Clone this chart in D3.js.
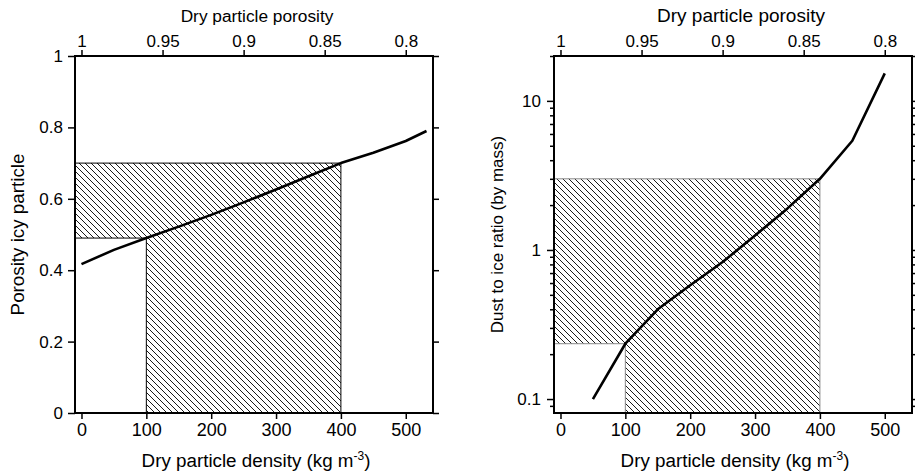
<!DOCTYPE html>
<html><head><meta charset="utf-8">
<script src="https://cdn.jsdelivr.net/npm/d3@7"></script>
<style>
body{margin:0;background:#fff}
svg{display:block}
text{font-family:"Liberation Sans",Arial,Helvetica,sans-serif;fill:#000}
</style>
</head><body>
<svg id="c" width="915" height="476"></svg>
<script>
// ---------- shared ----------
const grainDensity = 2500;                 // porosity = 1 - density / grainDensity
const densityTicks = [0, 100, 200, 300, 400, 500];
const porosityTicks = [1, 0.95, 0.9, 0.85, 0.8];
const densityDomain = [-10, 542];

// ---------- left panel: porosity of icy particle ----------
const densityL = [0, 50, 100, 150, 200, 250, 300, 350, 400, 450, 500, 532];
const porosityIcy = [0.417, 0.457, 0.490, 0.522, 0.555, 0.590, 0.626, 0.663, 0.700, 0.729, 0.762, 0.790];
const porosityIcyTicks = [0, 0.2, 0.4, 0.6, 0.8, 1];
const hatchDensityL = [100, 400];
const hatchLevelsL = [0.49, 0.70];

// ---------- right panel: dust to ice ratio ----------
const densityR = [50, 100, 150, 200, 250, 300, 350, 400, 450, 500];
const dustIceRatio = [0.10, 0.235, 0.40, 0.58, 0.83, 1.25, 1.9, 3.0, 5.4, 15.3];
const ratioLabelTicks = [0.1, 1, 10];
const ratioDomain = [0.0806, 20];
const hatchDensityR = [100, 400];
const hatchLevelsR = [0.235, 3.0];

const svg = d3.select("#c");
const defs = svg.append("defs");
const pat = defs.append("pattern").attr("id", "hatch")
  .attr("patternUnits", "userSpaceOnUse").attr("width", 6).attr("height", 6);
pat.append("path").attr("d", "M-1,-1L7,7M-1,5L1,7M5,-1L7,1")
  .attr("stroke", "#000").attr("stroke-width", 0.9).attr("fill", "none");

function panel(opt) {
  const g = svg.append("g");
  const x = d3.scaleLinear().domain(densityDomain).range(opt.xr);
  const top = 56, bot = 413;
  const y = opt.log ? d3.scaleLog().domain(ratioDomain).range([bot, top])
                    : d3.scaleLinear().domain([0, 1]).range([bot, top]);
  const xp = d3.scaleLinear()
    .domain(densityDomain.map(d => 1 - d / grainDensity)).range(opt.xr);
  const yMin = y.domain()[0];

  // hatched L-shaped region
  const hd = opt.hatchDensity, hl = opt.hatchLevels;
  const pts = [[densityDomain[0], hl[1]], [hd[1], hl[1]], [hd[1], yMin],
               [hd[0], yMin], [hd[0], hl[0]], [densityDomain[0], hl[0]]];
  g.append("path")
    .attr("d", d3.line().x(d => x(d[0])).y(d => y(d[1]))(pts) + "Z")
    .attr("fill", "url(#hatch)")
    .attr("stroke", opt.hatchStroke).attr("stroke-width", 1);

  // curve
  g.append("path")
    .datum(opt.xs.map((d, i) => [d, opt.ys[i]]))
    .attr("d", d3.line().x(d => x(d[0])).y(d => y(d[1])))
    .attr("fill", "none").attr("stroke", "#000").attr("stroke-width", 2.6)
    .attr("stroke-linejoin", "round");

  // bottom axis
  const ax = g.append("g").attr("transform", `translate(0,${bot})`)
    .call(d3.axisBottom(x).tickValues(densityTicks).tickSize(6).tickSizeOuter(0).tickPadding(4));
  ax.select(".domain").remove();
  ax.selectAll("line").attr("stroke-width", 1.5);
  ax.selectAll("text").attr("font-size", 18).attr("font-family", null);

  // top axis (porosity)
  const at = g.append("g").attr("transform", `translate(0,${top - 1})`)
    .call(d3.axisTop(xp).tickValues(porosityTicks).tickSize(5).tickSizeOuter(0).tickPadding(3)
      .tickFormat(d3.format("")));
  at.select(".domain").remove();
  at.selectAll("line").attr("stroke-width", 1.5);
  at.selectAll("text").attr("font-size", 17).attr("font-family", null);

  // left / right axes
  let left, right;
  if (opt.log) {
    const all = y.ticks();
    left = d3.axisLeft(y).tickValues(all).tickSize(4).tickSizeOuter(0).tickPadding(9)
      .tickFormat(d => ratioLabelTicks.includes(+d.toPrecision(3)) ? d3.format("")(d) : "");
    right = d3.axisRight(y).tickValues(all).tickSize(4).tickSizeOuter(0).tickFormat("");
  } else {
    left = d3.axisLeft(y).tickValues(porosityIcyTicks).tickSize(7).tickSizeOuter(0).tickPadding(5)
      .tickFormat(d3.format(""));
    right = d3.axisRight(y).tickValues(porosityIcyTicks).tickSize(6).tickSizeOuter(0).tickFormat("");
  }
  const al = g.append("g").attr("transform", `translate(${opt.xr[0]},0)`).call(left);
  al.select(".domain").remove();
  al.selectAll("line").attr("stroke-width", 1.5);
  al.selectAll("text").attr("font-size", 17).attr("font-family", null);
  if (opt.log) {
    al.selectAll(".tick").filter(d => ratioLabelTicks.includes(+d.toPrecision(3)))
      .select("line").attr("x2", -7);
  }
  const ar = g.append("g").attr("transform", `translate(${opt.xr[1]},0)`).call(right);
  ar.select(".domain").remove();
  ar.selectAll("line").attr("stroke-width", 1.5);

  // frame
  g.append("rect").attr("x", opt.xr[0]).attr("y", top)
    .attr("width", opt.xr[1] - opt.xr[0]).attr("height", bot - top)
    .attr("fill", "none").attr("stroke", "#000").attr("stroke-width", 2);

  // titles
  g.append("text").attr("x", opt.topTitleX).attr("y", 22).attr("text-anchor", "middle")
    .attr("font-size", opt.topTitleFs).text("Dry particle porosity");
  const bt = g.append("text").attr("x", (opt.xr[0] + opt.xr[1]) / 2 + 2).attr("y", 467)
    .attr("text-anchor", "middle").attr("font-size", 18.8);
  bt.append("tspan").text("Dry particle density (kg m");
  bt.append("tspan").attr("dy", -7).attr("font-size", 12).text("-3");
  bt.append("tspan").attr("dy", 7).text(")");
  g.append("text")
    .attr("transform", `translate(${opt.yTitleX},${(top + bot) / 2}) rotate(-90)`)
    .attr("text-anchor", "middle").attr("dy", "0.35em")
    .attr("font-size", opt.yTitleFs).text(opt.yTitle);
}

panel({
  xr: [75, 433], log: false, xs: densityL, ys: porosityIcy,
  hatchDensity: hatchDensityL, hatchLevels: hatchLevelsL, hatchStroke: "#000",
  topTitleX: 257, topTitleFs: 17.3, yTitleX: 17, yTitleFs: 18.8,
  yTitle: "Porosity icy particle"
});
panel({
  xr: [554, 912], log: true, xs: densityR, ys: dustIceRatio,
  hatchDensity: hatchDensityR, hatchLevels: hatchLevelsR, hatchStroke: "#888",
  topTitleX: 741, topTitleFs: 19, yTitleX: 497, yTitleFs: 17,
  yTitle: "Dust to ice ratio (by mass)"
});
</script>
</body></html>
